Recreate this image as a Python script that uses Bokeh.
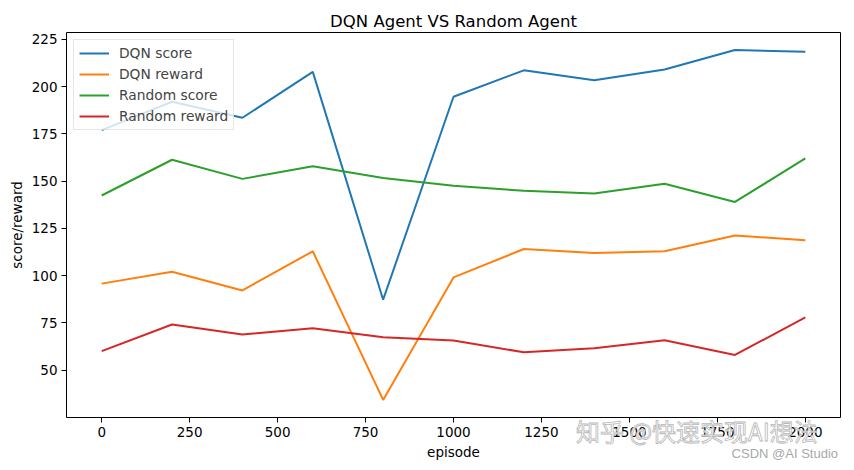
from bokeh.plotting import figure
from bokeh.models import Range1d, FixedTicker, Legend, LegendItem, Div
from bokeh.embed import file_html
from bokeh.resources import INLINE

# Evaluation results every 200 episodes
episodes = [0, 200, 400, 600, 800, 1000, 1200, 1400, 1600, 1800, 2000]
dqn_score = [177.0, 192.0, 183.5, 207.8, 87.3, 194.6, 208.6, 203.3, 209.0, 219.3, 218.4]
dqn_reward = [95.8, 102.1, 92.2, 112.9, 34.3, 99.1, 114.1, 112.0, 112.9, 121.3, 118.7]
random_score = [142.4, 161.3, 151.2, 157.9, 151.6, 147.5, 144.9, 143.5, 148.6, 139.0, 162.0]
random_reward = [60.1, 74.2, 68.9, 72.2, 67.4, 65.7, 59.5, 61.6, 65.9, 58.1, 77.9]

series_names = ["DQN score", "DQN reward", "Random score", "Random reward"]
series_colors = ["#1f77b4", "#ff7f0e", "#2ca02c", "#d62728"]

x_ticks = [0, 250, 500, 750, 1000, 1250, 1500, 1750, 2000]
y_ticks = [50, 75, 100, 125, 150, 175, 200, 225]

FONT = "DejaVu Sans"

p = figure(width=854, height=470, output_backend="svg", toolbar_location=None,
           title="DQN Agent VS Random Agent",
           x_range=Range1d(-100, 2100), y_range=Range1d(25.0, 228.6),
           min_border_left=66, min_border_right=14, min_border_top=32,
           min_border_bottom=53)

p.title.align = "center"
p.title.text_font = FONT
p.title.text_font_size = "16.5px"
p.title.text_font_style = "normal"
p.title.text_color = "black"
p.title.standoff = 4

p.grid.visible = False
p.outline_line_color = "black"
p.outline_line_width = 1
p.outline_line_alpha = 1.0
p.background_fill_color = "white"
p.border_fill_color = "white"

for ax in (p.xaxis[0], p.yaxis[0]):
    ax.axis_line_color = None
    ax.major_tick_in = 0
    ax.major_tick_out = 5
    ax.minor_tick_line_color = None
    ax.major_label_text_font = FONT
    ax.major_label_text_font_size = "13.5px"
    ax.major_label_text_color = "black"
    ax.axis_label_text_font = FONT
    ax.axis_label_text_font_size = "13.5px"
    ax.axis_label_text_font_style = "normal"
    ax.axis_label_text_color = "black"
    ax.major_label_standoff = 4
    ax.axis_label_standoff = 4

p.xaxis.ticker = FixedTicker(ticks=x_ticks)
p.yaxis.ticker = FixedTicker(ticks=y_ticks)
p.xaxis.axis_label = "episode"
p.yaxis.axis_label = "score/reward"

items = []
for name, ys, color in zip(series_names,
                           [dqn_score, dqn_reward, random_score, random_reward],
                           series_colors):
    r = p.line(episodes, ys, line_color=color, line_width=2)
    items.append(LegendItem(label=name, renderers=[r]))

legend = Legend(items=items, location="top_left")
legend.label_text_font = FONT
legend.label_text_font_size = "13.8px"
legend.glyph_width = 30
legend.glyph_height = 16
legend.label_height = 16
legend.label_standoff = 10
legend.spacing = 5
legend.padding = 5
legend.margin = 7
legend.border_line_color = "#cccccc"
legend.border_line_width = 1
legend.background_fill_alpha = 0.8
p.add_layout(legend)

# Watermarks overlaid on the lower right corner of the plot
zhihu = Div(text="知乎 @快速实现AI想法", styles={
    "position": "absolute", "left": "576px", "top": "416px",
    "font-family": "'Noto Sans CJK SC'", "font-size": "24px", "line-height": "30px",
    "color": "rgba(255,255,255,0.85)", "-webkit-text-stroke": "0.8px #b8b8b8",
    "white-space": "nowrap", "z-index": "10", "pointer-events": "none",
})
csdn = Div(text="CSDN @AI Studio", styles={
    "position": "absolute", "right": "16px", "top": "446px",
    "font-family": "'Liberation Sans'", "font-size": "13px", "line-height": "16px",
    "color": "#a8a8a8", "white-space": "nowrap", "z-index": "10",
    "pointer-events": "none",
})
if "elements" in p.properties():
    p.elements = [zhihu, csdn]

open("out.html", "w").write(file_html(p, INLINE))
